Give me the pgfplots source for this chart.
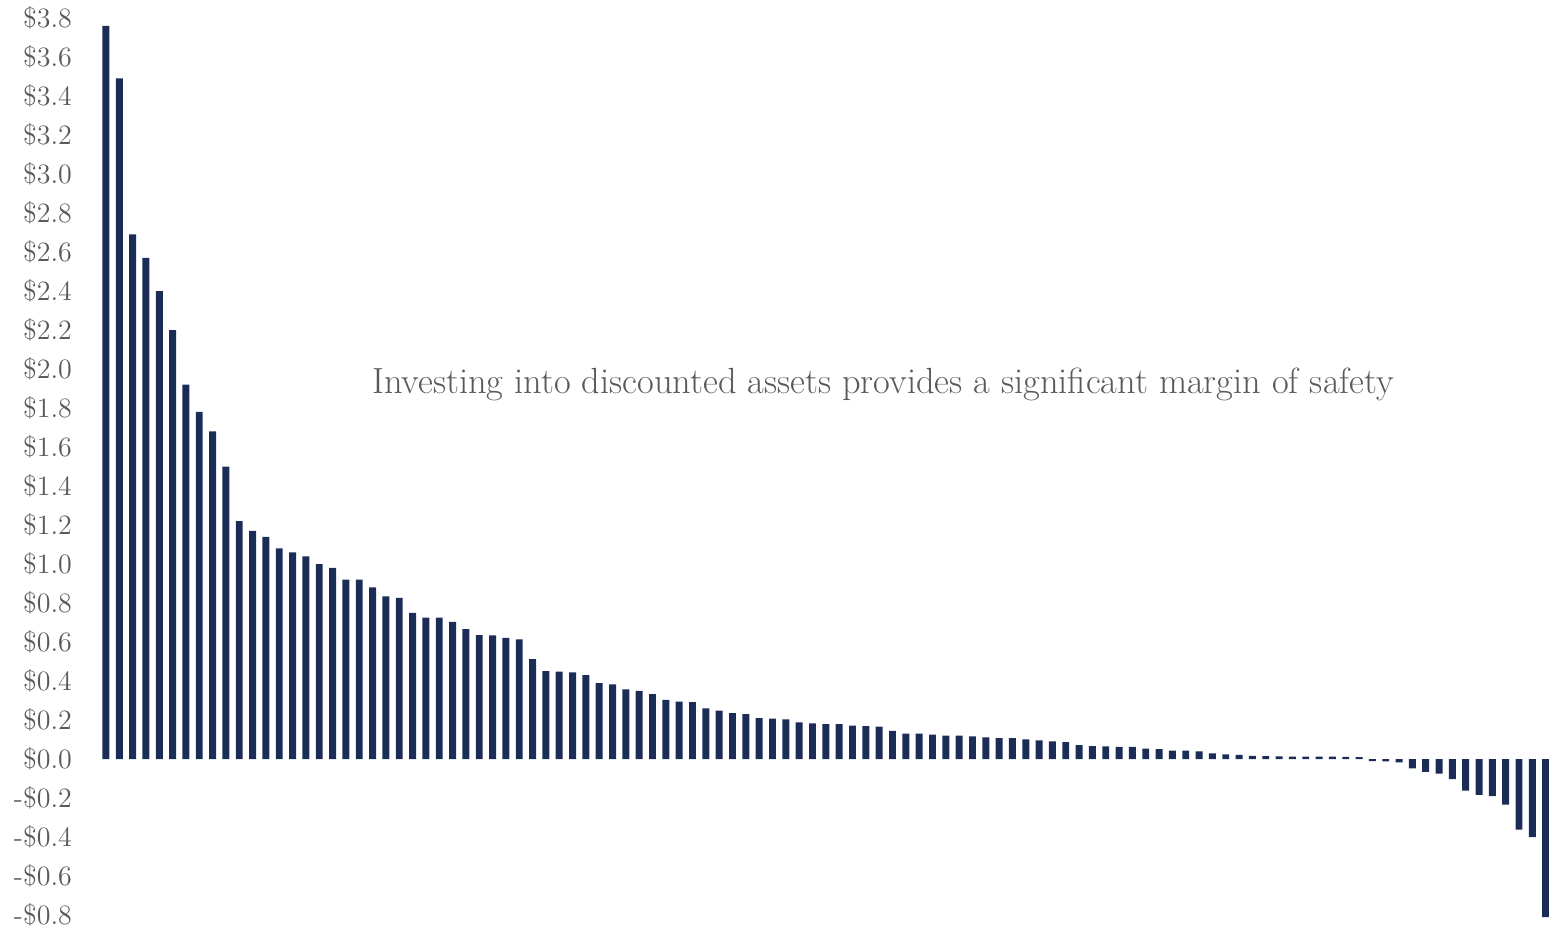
\documentclass[border=0pt]{standalone}
\usepackage{pgfplots}
\usepackage{pgfplotstable}
\pgfplotsset{compat=1.18}
\definecolor{navy}{HTML}{1B2D57}
\definecolor{txtgray}{HTML}{595959}
\pgfplotstableread{
v
3.76
3.49
2.69
2.57
2.40
2.20
1.92
1.78
1.68
1.50
1.22
1.17
1.14
1.08
1.06
1.04
1.00
0.98
0.92
0.92
0.88
0.834
0.826
0.750
0.726
0.725
0.703
0.667
0.636
0.634
0.622
0.614
0.513
0.451
0.448
0.444
0.431
0.390
0.383
0.357
0.350
0.333
0.303
0.295
0.292
0.260
0.248
0.236
0.231
0.210
0.207
0.203
0.188
0.183
0.179
0.179
0.171
0.169
0.166
0.145
0.130
0.130
0.126
0.120
0.120
0.116
0.111
0.108
0.108
0.101
0.096
0.091
0.087
0.072
0.067
0.065
0.062
0.062
0.053
0.051
0.044
0.044
0.039
0.029
0.024
0.021
0.017
0.015
0.014
0.013
0.013
0.012
0.012
0.011
0.010
-0.010
-0.012
-0.017
-0.048
-0.065
-0.075
-0.103
-0.162
-0.183
-0.190
-0.234
-0.362
-0.400
-0.81
}\datatable
\begin{document}
\begin{tikzpicture}
\begin{axis}[
  scale only axis,
  width=724.8pt, height=448.5pt,
  xmin=-0.5, xmax=108.25,
  ymin=-0.8, ymax=3.8,
  clip=false,
  axis line style={draw=none},
  xtick=\empty,
  ytick={-0.8,-0.6,-0.4,-0.2,0,0.2,0.4,0.6,0.8,1.0,1.2,1.4,1.6,1.8,2.0,2.2,2.4,2.6,2.8,3.0,3.2,3.4,3.6,3.8},
  yticklabels={-\$0.8,-\$0.6,-\$0.4,-\$0.2,\$0.0,\$0.2,\$0.4,\$0.6,\$0.8,\$1.0,\$1.2,\$1.4,\$1.6,\$1.8,\$2.0,\$2.2,\$2.4,\$2.6,\$2.8,\$3.0,\$3.2,\$3.4,\$3.6,\$3.8},
  major tick length=0pt,
  yticklabel style={font=\fontsize{14}{16}\selectfont, text=txtgray, anchor=east, inner sep=0pt, xshift=-13.5pt},
]
\addplot[ybar, bar width=0.52, fill=navy, draw=none] table[x expr=\coordindex, y index=0] {\datatable};
\node[text=txtgray, font=\fontsize{18.2}{21}\selectfont] at (axis cs:58.3,1.92) {Investing into discounted assets provides a significant margin of safety};
\coordinate (bl) at (rel axis cs:-0.0685,-0.0134);
\coordinate (tr) at (rel axis cs:1,1.0201);
\end{axis}
\pgfresetboundingbox
\path[use as bounding box] (bl) rectangle (tr);
\end{tikzpicture}
\end{document}
